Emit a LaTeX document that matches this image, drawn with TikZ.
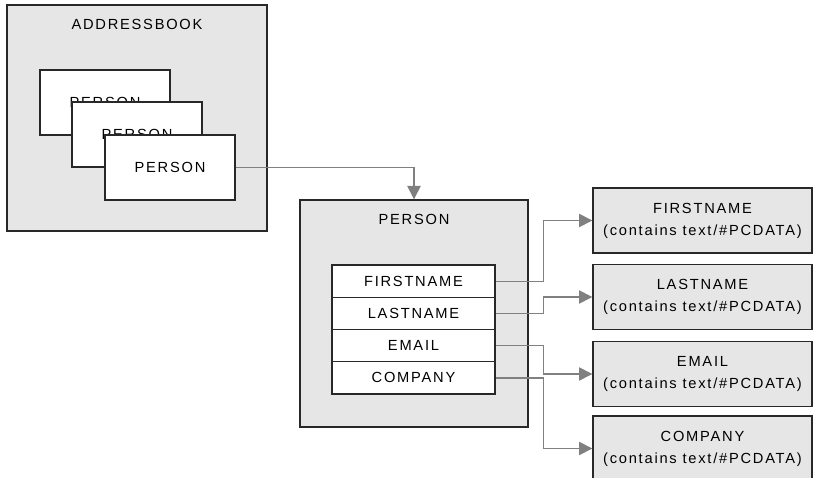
\documentclass[tikz,border=0pt]{standalone}
\usepackage{fontspec}
\setmainfont[LetterSpace=12]{Liberation Sans}
\usetikzlibrary{arrows.meta}

\definecolor{boxgray}{RGB}{230,230,230}
\definecolor{linkgray}{RGB}{128,128,128}
\definecolor{edgegray}{RGB}{40,40,40}

\tikzset{every picture/.style={line width=0.75pt}}
\tikzset{
  outerbox/.style={draw=edgegray, line width=1pt, fill=boxgray, inner sep=0pt},
  card/.style={draw=edgegray, line width=1pt, fill=white, inner sep=0pt,
    minimum width=97.5pt, minimum height=48.75pt, font=\fontsize{11}{13}\selectfont},
  field/.style={draw=edgegray, line width=1pt, fill=white, inner sep=0pt,
    minimum width=122.25pt, minimum height=24.19pt, font=\fontsize{11}{13}\selectfont},
  leaf/.style={outerbox, minimum width=164.25pt, minimum height=48.75pt,
    align=center, font=\fontsize{11}{16.5}\selectfont},
  lbl/.style={inner sep=0.75pt, font=\fontsize{11}{13}\selectfont},
  link/.style={draw=linkgray, line width=0.9pt,
    -{Triangle[length=10pt,width=10pt]}}
}

\begin{document}
\begin{tikzpicture}[x=0.75pt,y=0.75pt,yscale=-1,xscale=1]
\useasboundingbox (0,0) rectangle (815,478);
\clip (0,0) rectangle (815,478);

% Addressbook with stacked persons
\node [outerbox, minimum width=195pt, minimum height=169.5pt] (abook) at (137,118) {};
\node [lbl] (abooklbl) at (137,24) {ADDRESSBOOK};
\node [card] (card1) at (105,102.5) {PERSON};
\node [card] (card2) at (137,134.5) {PERSON};
\node [card] (card3) at (170,167.5) {PERSON};

% Person element
\node [outerbox, minimum width=171pt, minimum height=170.25pt] (person) at (414,313.5) {};
\node [lbl] (personlbl) at (414,219) {PERSON};
\node [field] (fname) at (413.5,281.1) {FIRSTNAME};
\node [field] (lname) at (413.5,313.4) {LASTNAME};
\node [field] (email) at (413.5,345.6) {EMAIL};
\node [field] (company) at (413.5,377.9) {COMPANY};

% Leaf elements
\node [leaf] (fnamebox) at (702.5,220.5) {FIRSTNAME\\(contains text/\#PCDATA)};
\node [leaf] (lnamebox) at (702.5,297) {LASTNAME\\(contains text/\#PCDATA)};
\node [leaf] (emailbox) at (702.5,374) {EMAIL\\(contains text/\#PCDATA)};
\node [leaf] (companybox) at (702.5,448.5) {COMPANY\\(contains text/\#PCDATA)};

% Connectors
\draw [link] (card3.east) -| (person.north);
\draw [link] (fname.east) -- ++(48,0) |- (fnamebox.west);
\draw [link] (lname.east) -- ++(48,0) |- (lnamebox.west);
\draw [link] (email.east) -- ++(48,0) |- (emailbox.west);
\draw [link] (company.east) -- ++(48,0) |- (companybox.west);

\end{tikzpicture}
\end{document}
